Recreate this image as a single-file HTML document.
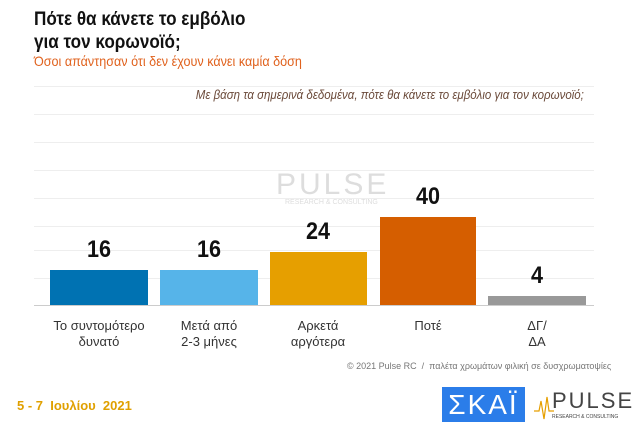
<!DOCTYPE html><html><head><meta charset="utf-8"><style>
body{margin:0;width:640px;height:445px;background:#fff;position:relative;overflow:hidden;font-family:"Liberation Sans","DejaVu Sans",sans-serif}
.a{position:absolute}
.t{left:34px;top:8px;font-size:19px;font-weight:bold;line-height:23px;color:#111;transform:scaleX(.9);transform-origin:left}
.s{left:34px;top:53px;font-size:14px;color:#e0621e;transform:scaleX(.9);transform-origin:left}
.q{right:56px;top:88px;font-size:12.5px;font-style:italic;color:#6b4a3a;transform:scaleX(.92);transform-origin:right}
.g{left:34px;width:560px;height:1px;background:#eee}
.v{font-size:24px;font-weight:bold;color:#111;text-align:center;width:100px;transform:scaleX(.9)}
.l{font-size:13px;color:#333;text-align:center;width:110px;top:318px;line-height:16px}
</style></head><body>
<div class="a t">Πότε θα κάνετε το εμβόλιο<br>για τον κορωνοϊό;</div>
<div class="a s">Όσοι απάντησαν ότι δεν έχουν κάνει καμία δόση</div>
<div class="a g" style="top:86px"></div>
<div class="a q">Με βάση τα σημερινά δεδομένα, πότε θα κάνετε το εμβόλιο για τον κορωνοϊό;</div>
<div class="a g" style="top:114px"></div><div class="a g" style="top:142px"></div><div class="a g" style="top:170px"></div><div class="a g" style="top:198px"></div><div class="a g" style="top:226px"></div><div class="a g" style="top:250px"></div><div class="a g" style="top:278px"></div>
<div class="a" style="left:276px;top:168px;font-size:30px;color:#ddd;letter-spacing:3px">PULSE</div>
<div class="a" style="left:285px;top:199px;font-size:7px;color:#ddd">RESEARCH &amp; CONSULTING</div>
<div class="a" style="left:34px;top:305px;width:560px;height:1px;background:#ccc"></div>
<div class="a" style="left:50px;top:270px;width:98px;height:35px;background:#0072b2"></div>
<div class="a" style="left:160px;top:270px;width:98px;height:35px;background:#56b4e9"></div>
<div class="a" style="left:270px;top:252px;width:97px;height:53px;background:#e69f00"></div>
<div class="a" style="left:380px;top:217px;width:96px;height:88px;background:#d55e00"></div>
<div class="a" style="left:488px;top:296px;width:98px;height:9px;background:#999"></div>
<div class="a v" style="left:49px;top:236px">16</div>
<div class="a v" style="left:159px;top:236px">16</div>
<div class="a v" style="left:268px;top:218px">24</div>
<div class="a v" style="left:378px;top:183px">40</div>
<div class="a v" style="left:487px;top:262px">4</div>
<div class="a l" style="left:44px">Το συντομότερο<br>δυνατό</div>
<div class="a l" style="left:154px">Μετά από<br>2-3 μήνες</div>
<div class="a l" style="left:263px">Αρκετά<br>αργότερα</div>
<div class="a l" style="left:373px">Ποτέ</div>
<div class="a l" style="left:482px">ΔΓ/<br>ΔΑ</div>
<div class="a" style="left:347px;top:361px;font-size:9px;color:#777">© 2021 Pulse RC &nbsp;/ &nbsp;παλέτα χρωμάτων φιλική σε δυσχρωματοψίες</div>
<div class="a" style="left:17px;top:398px;font-size:13px;font-weight:bold;color:#e0a000">5 - 7 &nbsp;Ιουλίου &nbsp;2021</div>
<div class="a" style="left:442px;top:387px;width:83px;height:35px;background:#2b7de9;color:#fff;font-size:28px;line-height:35px;text-align:center;letter-spacing:2px">ΣΚΑΪ</div>
<div class="a" style="left:552px;top:390px;font-size:22px;color:#444;letter-spacing:2px;line-height:22px">PULSE</div>
<div class="a" style="left:552px;top:414px;font-size:5px;color:#444">RESEARCH &amp; CONSULTING</div>
<svg class="a" style="left:534px;top:393px" width="20" height="28"><polyline points="0,18 5,18 7,8 10,26 13,4 15,18 20,18" fill="none" stroke="#e69f00" stroke-width="1.2"/></svg>
</body></html>
